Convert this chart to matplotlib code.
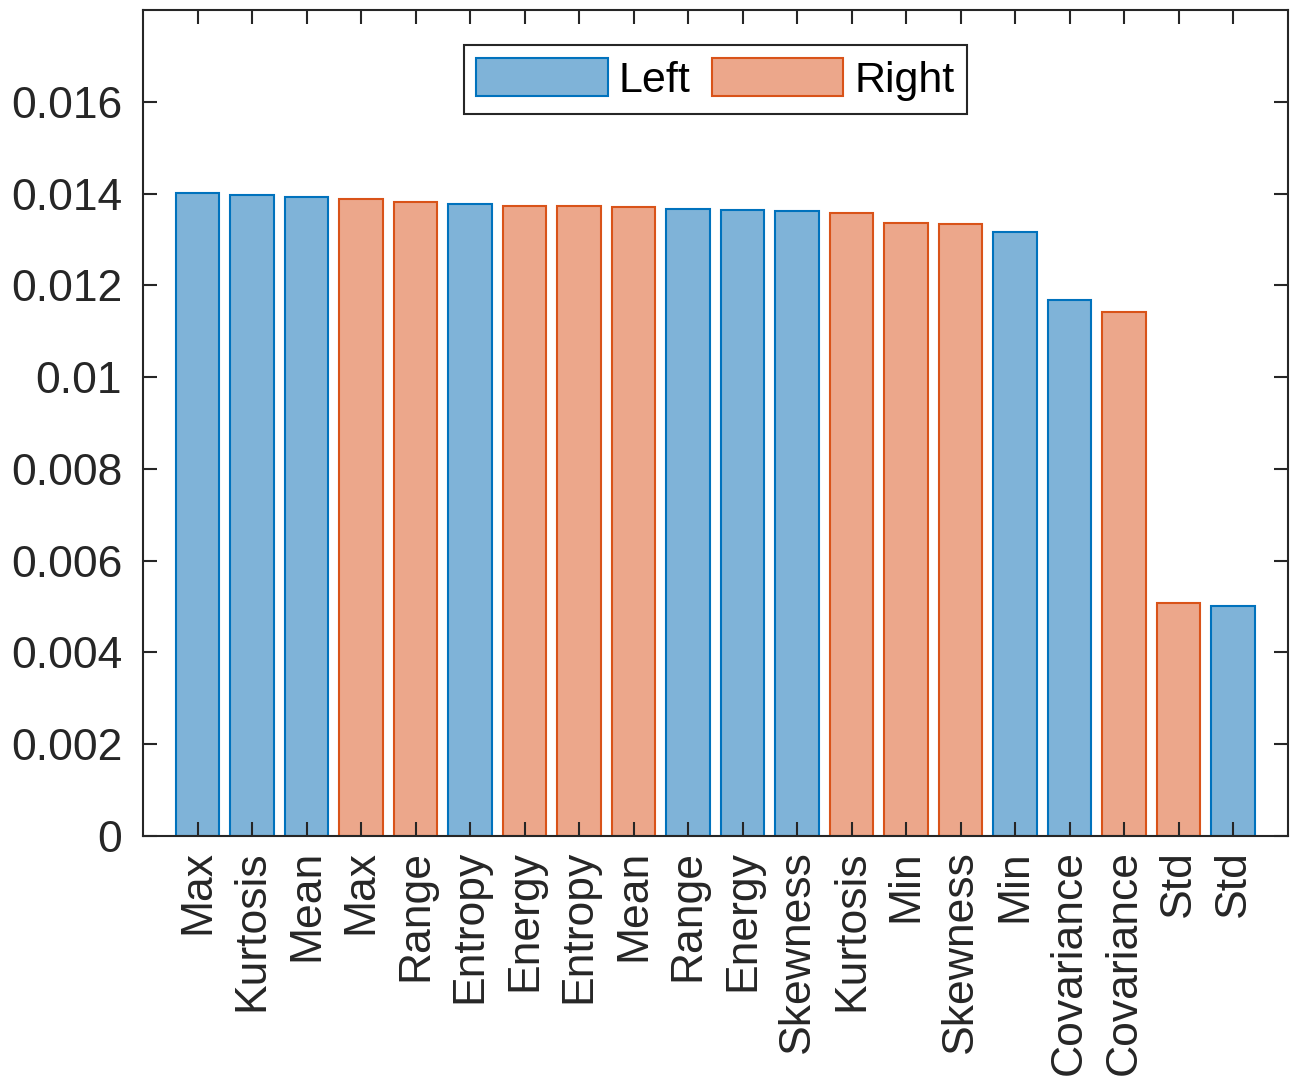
import matplotlib.pyplot as plt
from matplotlib.patches import Patch

plt.rcParams['font.family'] = ['Liberation Sans', 'DejaVu Sans']

labels = ['Max', 'Kurtosis', 'Mean', 'Max', 'Range', 'Entropy', 'Energy', 'Entropy',
          'Mean', 'Range', 'Energy', 'Skewness', 'Kurtosis', 'Min', 'Skewness', 'Min',
          'Covariance', 'Covariance', 'Std', 'Std']
sides = ['L', 'L', 'L', 'R', 'R', 'L', 'R', 'R', 'R', 'L', 'L', 'L', 'R', 'R', 'R', 'L',
         'L', 'R', 'R', 'L']
values = [0.014016, 0.013973, 0.01393, 0.013886, 0.01382, 0.013777, 0.01373, 0.01373,
          0.01371, 0.01367, 0.013646, 0.013624, 0.01358, 0.013362, 0.01334, 0.013166,
          0.011684, 0.011422, 0.00508, 0.005014]

blue_face, blue_edge = '#7fb3d8', '#0072bd'
red_face, red_edge = '#eca78b', '#d95319'

fig = plt.figure(figsize=(12.97, 10.78), dpi=100)
ax = fig.add_axes([0.1103, 0.2245, 0.8825, 0.7662])

x = list(range(1, len(values) + 1))
faces = [blue_face if s == 'L' else red_face for s in sides]
edges = [blue_edge if s == 'L' else red_edge for s in sides]
ax.bar(x, values, width=0.8, color=faces, edgecolor=edges, linewidth=1.5)

ax.set_xlim(0, 21)
ax.set_ylim(0, 0.018)
ax.set_yticks([0, 0.002, 0.004, 0.006, 0.008, 0.01, 0.012, 0.014, 0.016])
ax.set_yticklabels(['0', '0.002', '0.004', '0.006', '0.008', '0.01', '0.012', '0.014', '0.016'])
ax.set_xticks(x)
ax.set_xticklabels(labels, rotation=90)

dark = '#262626'
for sp in ax.spines.values():
    sp.set_color(dark)
    sp.set_linewidth(1.5)
ax.tick_params(direction='in', length=10, width=1.5, color=dark, labelcolor=dark,
               labelsize=32, top=True, right=True)
ax.tick_params(axis='y', pad=15)
ax.tick_params(axis='x', pad=10)

handles = [Patch(facecolor=blue_face, edgecolor=blue_edge, linewidth=1.5, label='Left'),
           Patch(facecolor=red_face, edgecolor=red_edge, linewidth=1.5, label='Right')]
leg = ax.legend(handles=handles, loc='upper center', ncol=2, fontsize=31,
                bbox_to_anchor=(0.5, 0.958), fancybox=False, framealpha=1,
                edgecolor=dark, handlelength=3.05, handleheight=1.0,
                columnspacing=0.5, handletextpad=0.25, borderpad=0.3,
                borderaxespad=0, labelcolor='black')
leg.get_frame().set_linewidth(1.5)

fig.savefig('out.png', dpi=100)
